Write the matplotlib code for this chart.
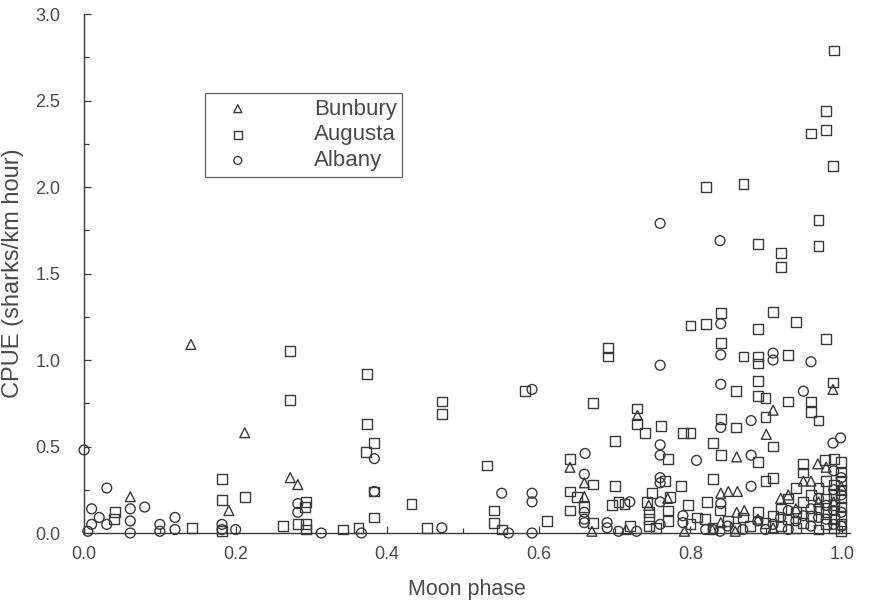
import matplotlib
matplotlib.use("Agg")
import matplotlib.pyplot as plt
from matplotlib.ticker import MultipleLocator

plt.rcParams["font.family"] = ["Liberation Sans", "DejaVu Sans"]

# Moon phase (x) and CPUE (y) for each region
bunbury_x = [0.061, 0.141, 0.191, 0.212, 0.272, 0.282, 0.641, 0.660, 0.660, 0.730,
             0.770, 0.745, 0.715, 0.840, 0.850, 0.862, 0.861, 0.909, 0.900, 0.840,
             0.861, 0.871, 0.949, 0.979, 0.988, 0.929, 0.919, 0.939, 0.959, 0.969,
             0.909, 0.889, 0.859, 0.829, 0.792, 0.670, 0.968, 0.999, 0.989]
bunbury_y = [0.21, 1.09, 0.13, 0.58, 0.32, 0.28, 0.38, 0.29, 0.21, 0.68,
             0.20, 0.16, 0.02, 0.23, 0.24, 0.24, 0.44, 0.71, 0.57, 0.06,
             0.12, 0.13, 0.30, 0.38, 0.83, 0.22, 0.20, 0.14, 0.30, 0.18,
             0.03, 0.08, 0.01, 0.02, 0.01, 0.01, 0.40, 0.27, 0.18]

augusta_x = [0.041, 0.040, 0.142, 0.182, 0.182, 0.182, 0.212, 0.262, 0.272, 0.272,
             0.293, 0.292, 0.282, 0.293, 0.293, 0.342, 0.362, 0.373, 0.373, 0.383,
             0.372, 0.383, 0.383, 0.432, 0.452, 0.472, 0.472, 0.532, 0.541, 0.541,
             0.551, 0.582, 0.611, 0.641, 0.641, 0.641, 0.650, 0.660, 0.671, 0.671,
             0.671, 0.691, 0.691, 0.700, 0.700, 0.720, 0.730, 0.730, 0.740, 0.745,
             0.745, 0.745, 0.749, 0.755, 0.761, 0.770, 0.770, 0.770, 0.790, 0.800,
             0.800, 0.820, 0.820, 0.870, 0.797, 0.800, 0.809, 0.822, 0.830, 0.830,
             0.840, 0.840, 0.840, 0.840, 0.860, 0.860, 0.870, 0.889, 0.889, 0.889,
             0.889, 0.889, 0.899, 0.899, 0.909, 0.889, 0.899, 0.909, 0.909, 0.919,
             0.919, 0.889, 0.929, 0.929, 0.939, 0.949, 0.949, 0.959, 0.959, 0.959,
             0.969, 0.969, 0.969, 0.979, 0.979, 0.979, 0.988, 0.989, 0.988, 0.978,
             0.989, 0.999,
             0.999, 0.999, 0.999, 0.999, 0.999, 0.999, 0.999, 0.999, 0.989, 0.989,
             0.989, 0.989, 0.989, 0.979, 0.979, 0.979, 0.979, 0.969, 0.969, 0.969,
             0.959, 0.959, 0.949, 0.949, 0.939, 0.939, 0.939, 0.929, 0.929, 0.919,
             0.919, 0.909, 0.899, 0.889, 0.879, 0.869, 0.859, 0.849, 0.839, 0.829,
             0.819, 0.705, 0.713, 0.697, 0.743, 0.773, 0.788, 0.766]
augusta_y = [0.12, 0.08, 0.03, 0.31, 0.19, 0.01, 0.21, 0.04, 1.05, 0.77,
             0.18, 0.15, 0.05, 0.05, 0.02, 0.02, 0.03, 0.92, 0.63, 0.52,
             0.47, 0.24, 0.09, 0.17, 0.03, 0.76, 0.69, 0.39, 0.13, 0.06,
             0.02, 0.82, 0.07, 0.43, 0.24, 0.13, 0.21, 0.15, 0.75, 0.28,
             0.06, 1.07, 1.02, 0.53, 0.27, 0.04, 0.72, 0.63, 0.58, 0.12,
             0.08, 0.04, 0.23, 0.03, 0.62, 0.43, 0.13, 0.07, 0.58, 0.58,
             1.20, 1.21, 2.00, 2.02, 0.16, 0.05, 0.09, 0.18, 0.52, 0.31,
             1.27, 1.10, 0.66, 0.45, 0.82, 0.61, 1.02, 1.18, 1.02, 0.98,
             0.88, 0.79, 0.78, 0.67, 0.50, 0.41, 0.30, 0.32, 1.28, 1.62,
             1.54, 1.67, 1.03, 0.76, 1.22, 0.40, 0.35, 2.31, 0.76, 0.70,
             0.65, 1.81, 1.66, 2.44, 2.33, 1.12, 2.12, 2.79, 0.87, 0.42,
             0.43, 0.41,
             0.35, 0.30, 0.25, 0.20, 0.15, 0.10, 0.05, 0.01, 0.28, 0.22,
             0.16, 0.08, 0.03, 0.30, 0.20, 0.12, 0.05, 0.26, 0.14, 0.02,
             0.22, 0.10, 0.18, 0.06, 0.26, 0.12, 0.03, 0.20, 0.08, 0.14,
             0.04, 0.10, 0.06, 0.12, 0.04, 0.09, 0.03, 0.07, 0.13, 0.03,
             0.08, 0.18, 0.17, 0.16, 0.18, 0.21, 0.27, 0.30]

albany_x = [0.000, 0.010, 0.020, 0.030, 0.030, 0.010, 0.005, 0.061, 0.061, 0.061,
            0.080, 0.100, 0.100, 0.120, 0.120, 0.182, 0.182, 0.200, 0.282, 0.282,
            0.313, 0.366, 0.383, 0.383, 0.472, 0.551, 0.591, 0.591, 0.591, 0.591,
            0.560, 0.661, 0.660, 0.660, 0.660, 0.660, 0.690, 0.690, 0.760, 0.760,
            0.760, 0.760, 0.760, 0.760, 0.760, 0.760, 0.790, 0.790, 0.839, 0.840,
            0.840, 0.840, 0.840, 0.840, 0.880, 0.880, 0.880, 0.909, 0.909, 0.949,
            0.959, 0.988, 0.998, 0.820, 0.830, 0.729, 0.705,
            0.999, 0.999, 0.999, 0.999, 0.989, 0.989, 0.989, 0.989, 0.979, 0.979,
            0.969, 0.969, 0.959, 0.959, 0.949, 0.939, 0.929, 0.929, 0.919, 0.909,
            0.899, 0.889, 0.869, 0.849, 0.839, 0.720, 0.808]
albany_y = [0.48, 0.14, 0.09, 0.26, 0.05, 0.05, 0.01, 0.14, 0.07, 0.00,
            0.15, 0.05, 0.01, 0.09, 0.02, 0.05, 0.02, 0.02, 0.17, 0.12,
            0.00, 0.00, 0.43, 0.24, 0.03, 0.23, 0.83, 0.23, 0.18, 0.00,
            0.00, 0.46, 0.34, 0.12, 0.08, 0.06, 0.06, 0.03, 1.79, 0.97,
            0.51, 0.45, 0.32, 0.29, 0.18, 0.05, 0.10, 0.06, 1.69, 1.21,
            1.03, 0.86, 0.61, 0.17, 0.65, 0.45, 0.27, 1.04, 1.00, 0.82,
            0.99, 0.52, 0.55, 0.02, 0.02, 0.01, 0.01,
            0.32, 0.22, 0.12, 0.04, 0.36, 0.25, 0.13, 0.05, 0.16, 0.08,
            0.20, 0.09, 0.14, 0.04, 0.10, 0.07, 0.13, 0.02, 0.09, 0.05,
            0.02, 0.07, 0.02, 0.04, 0.01, 0.18, 0.42]

ink = "#383838"
text_col = "#4a4a4a"

fig = plt.figure(figsize=(8.7, 6.02), dpi=100)
ax = fig.add_axes([0.0966, 0.1146, 0.880, 0.862])

style = dict(facecolor="none", edgecolors=ink, linewidths=1.0, s=50, clip_on=False, zorder=3)
ax.scatter(bunbury_x, bunbury_y, marker="^", label="Bunbury", **style)
ax.scatter(augusta_x, augusta_y, marker="s", label="Augusta", **style)
ax.scatter(albany_x, albany_y, marker="o", label="Albany", **style)

ax.set_xlim(0, 1.01)
ax.set_ylim(0, 3.0)
ax.xaxis.set_major_locator(MultipleLocator(0.2))
ax.xaxis.set_minor_locator(MultipleLocator(0.1))
ax.yaxis.set_major_locator(MultipleLocator(0.5))
ax.yaxis.set_minor_locator(MultipleLocator(0.25))
ax.xaxis.set_major_formatter(plt.FuncFormatter(lambda v, p: f"{v:.1f}"))
ax.yaxis.set_major_formatter(plt.FuncFormatter(lambda v, p: f"{v:.1f}"))

for side in ("top", "right"):
    ax.spines[side].set_visible(False)
for side in ("left", "bottom"):
    ax.spines[side].set_color(ink)
    ax.spines[side].set_linewidth(1.0)

ax.tick_params(which="both", direction="in", color=ink, width=0.9)
ax.tick_params(which="major", length=5)
ax.tick_params(which="minor", length=3.5)
ax.tick_params(axis="y", which="major", pad=17, labelsize=13, labelcolor=text_col)
ax.tick_params(axis="x", which="major", pad=9, labelsize=13, labelcolor=text_col)

ax.set_xlabel("Moon phase", fontsize=15.5, color=text_col, labelpad=12)
ax.set_ylabel("CPUE (sharks/km hour)", fontsize=17, color=text_col, labelpad=8)

leg = ax.legend(loc="upper left", bbox_to_anchor=(0.158, 0.848), fontsize=16,
                frameon=True, fancybox=False, borderpad=0.25, handlelength=2.45,
                handletextpad=2.2, labelspacing=0.22, borderaxespad=0.0,
                markerscale=0.8, labelcolor=text_col)
leg.get_frame().set_edgecolor(ink)
leg.get_frame().set_linewidth(0.9)

fig.savefig("out.png", dpi=100)
